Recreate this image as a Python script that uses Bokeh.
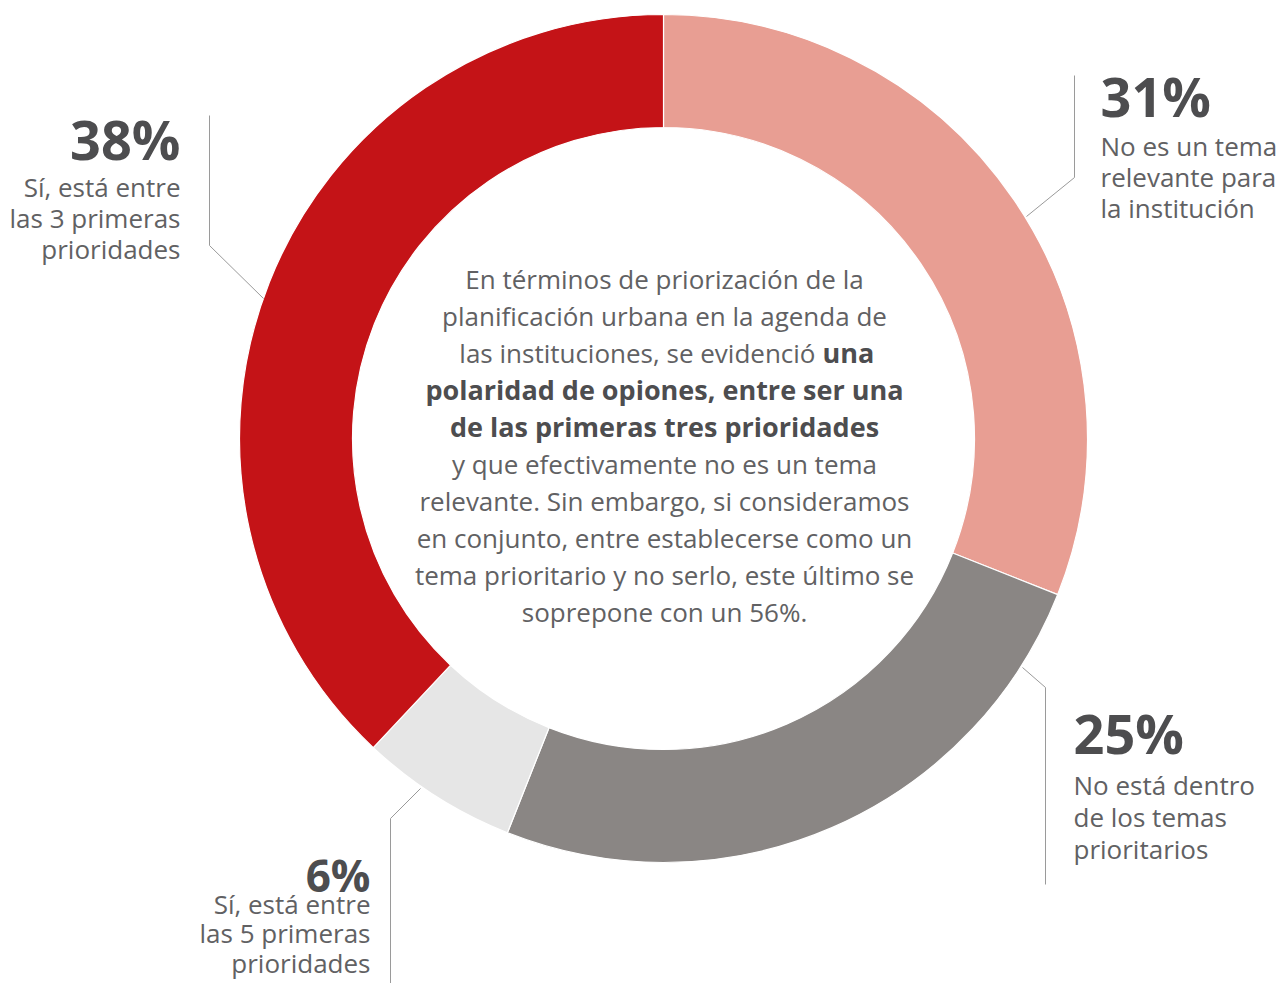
import numpy as np
from bokeh.plotting import figure
from bokeh.models import Range1d, ColumnDataSource
from bokeh.core.properties import value
from bokeh.embed import file_html
from bokeh.resources import INLINE

# ---------------- data ----------------
categories = [
    "No es un tema relevante para la institución",
    "No está dentro de los temas prioritarios",
    "Sí, está entre las 5 primeras prioridades",
    "Sí, está entre las 3 primeras prioridades",
]
percentages = [31, 25, 6, 38]
colors = ["#E89E93", "#8A8684", "#E6E6E6", "#C41317"]
pct_labels = ["31%", "25%", "6%", "38%"]
desc_lines = [
    ["No es un tema", "relevante para", "la institución"],
    ["No está dentro", "de los temas", "prioritarios"],
    ["Sí, está entre", "las 5 primeras", "prioridades"],
    ["Sí, está entre", "las 3 primeras", "prioridades"],
]
center_text = [
    ("En términos de priorización de la", None),
    ("planificación urbana en la agenda de", None),
    ("las instituciones, se evidenció", "una"),
    (None, "polaridad de opiones, entre ser una"),
    (None, "de las primeras tres prioridades"),
    ("y que efectivamente no es un tema", None),
    ("relevante. Sin embargo, si consideramos", None),
    ("en conjunto, entre establecerse como un", None),
    ("tema prioritario y no serlo, este último se", None),
    ("soprepone con un 56%.", None),
]

W, H = 1280, 983
FONT = value("Open Sans")
TXT = "#616163"
BOLD = "#4D4D4F"
LINE = "#9A9A9A"
K = 0.42  # baseline correction factor


def X(xr):
    return xr


def Y(yr):
    return H - yr


def YB(yr, size):
    return H - (yr - K * size)


p = figure(width=W, height=H, x_range=Range1d(0, W), y_range=Range1d(0, H),
           output_backend="svg", toolbar_location=None, min_border=0)
p.axis.visible = False
p.grid.visible = False
p.outline_line_color = None
p.background_fill_color = "white"
p.border_fill_color = "white"

# ---------------- donut ----------------
cx, cy = X(663), Y(438)
r_out, r_in = 424, 311
frac = np.array(percentages, dtype=float) / sum(percentages)
cum = np.concatenate([[0], np.cumsum(frac)]) * 2 * np.pi
start = np.pi / 2 - cum[1:]
end = np.pi / 2 - cum[:-1]
src = ColumnDataSource(dict(cat=categories, start=start, end=end, color=colors,
                            x=[cx] * 4, y=[cy] * 4))
p.annular_wedge(x="x", y="y", inner_radius=r_in, outer_radius=r_out,
                start_angle="start", end_angle="end", fill_color="color",
                line_color="white", line_width=1.2, source=src)

# ---------------- leader lines ----------------
leaders = [
    [(1026, 216), (1074, 177), (1074, 75)],
    [(1022, 667), (1045, 687), (1045, 884)],
    [(420, 788), (390, 818), (390, 990)],
    [(263, 298), (209, 245), (209, 115)],
]
p.multi_line(xs=[[X(a) for a, b in l] for l in leaders],
             ys=[[Y(b) for a, b in l] for l in leaders],
             line_color=LINE, line_width=1)

# ---------------- labels ----------------
# (x, pct baseline, first desc baseline, spacing, align, pct size, desc size)
lab_pos = [
    (1100, 118, 156, 31, "left", 54, 26),
    (1073, 755, 795, 32, "left", 54, 26),
    (370, 893, 914, 29.5, "right", 44, 26),
    (180, 161, 197, 31, "right", 54, 26),
]
for i, (lx, pb, db, sp, al, ps, ds) in enumerate(lab_pos):
    p.text(x=[X(lx)], y=[YB(pb, ps)], text=[pct_labels[i]], text_font=FONT,
           text_font_style="bold", text_font_size=f"{ps}px", text_color=BOLD,
           text_align=al, text_baseline="alphabetic")
    p.text(x=[X(lx)] * 3, y=[YB(db + k * sp, ds) for k in range(3)], text=desc_lines[i],
           text_font=FONT, text_font_size=f"{ds}px", text_color=TXT,
           text_align=al, text_baseline="alphabetic")

# ---------------- center text ----------------
base0, lsp = 289, 37
RS, BS = 26, 27
for k, (reg, bold) in enumerate(center_text):
    yr = base0 + k * lsp
    if reg is not None and bold is None:
        p.text(x=[X(664)], y=[YB(yr, RS)], text=[reg], text_font=FONT,
               text_font_size=f"{RS}px", text_color=TXT, text_align="center",
               text_baseline="alphabetic")
    elif reg is None and bold is not None:
        p.text(x=[X(664)], y=[YB(yr, BS)], text=[bold], text_font=FONT,
               text_font_size=f"{BS}px", text_font_style="bold", text_color=BOLD,
               text_align="center", text_baseline="alphabetic")
    else:
        p.text(x=[X(815)], y=[YB(yr, RS)], text=[reg], text_font=FONT,
               text_font_size=f"{RS}px", text_color=TXT, text_align="right",
               text_baseline="alphabetic")
        p.text(x=[X(822)], y=[YB(yr, BS)], text=[bold], text_font=FONT,
               text_font_size=f"{BS}px", text_font_style="bold", text_color=BOLD,
               text_align="left", text_baseline="alphabetic")

open("out.html", "w").write(file_html(p, INLINE))
